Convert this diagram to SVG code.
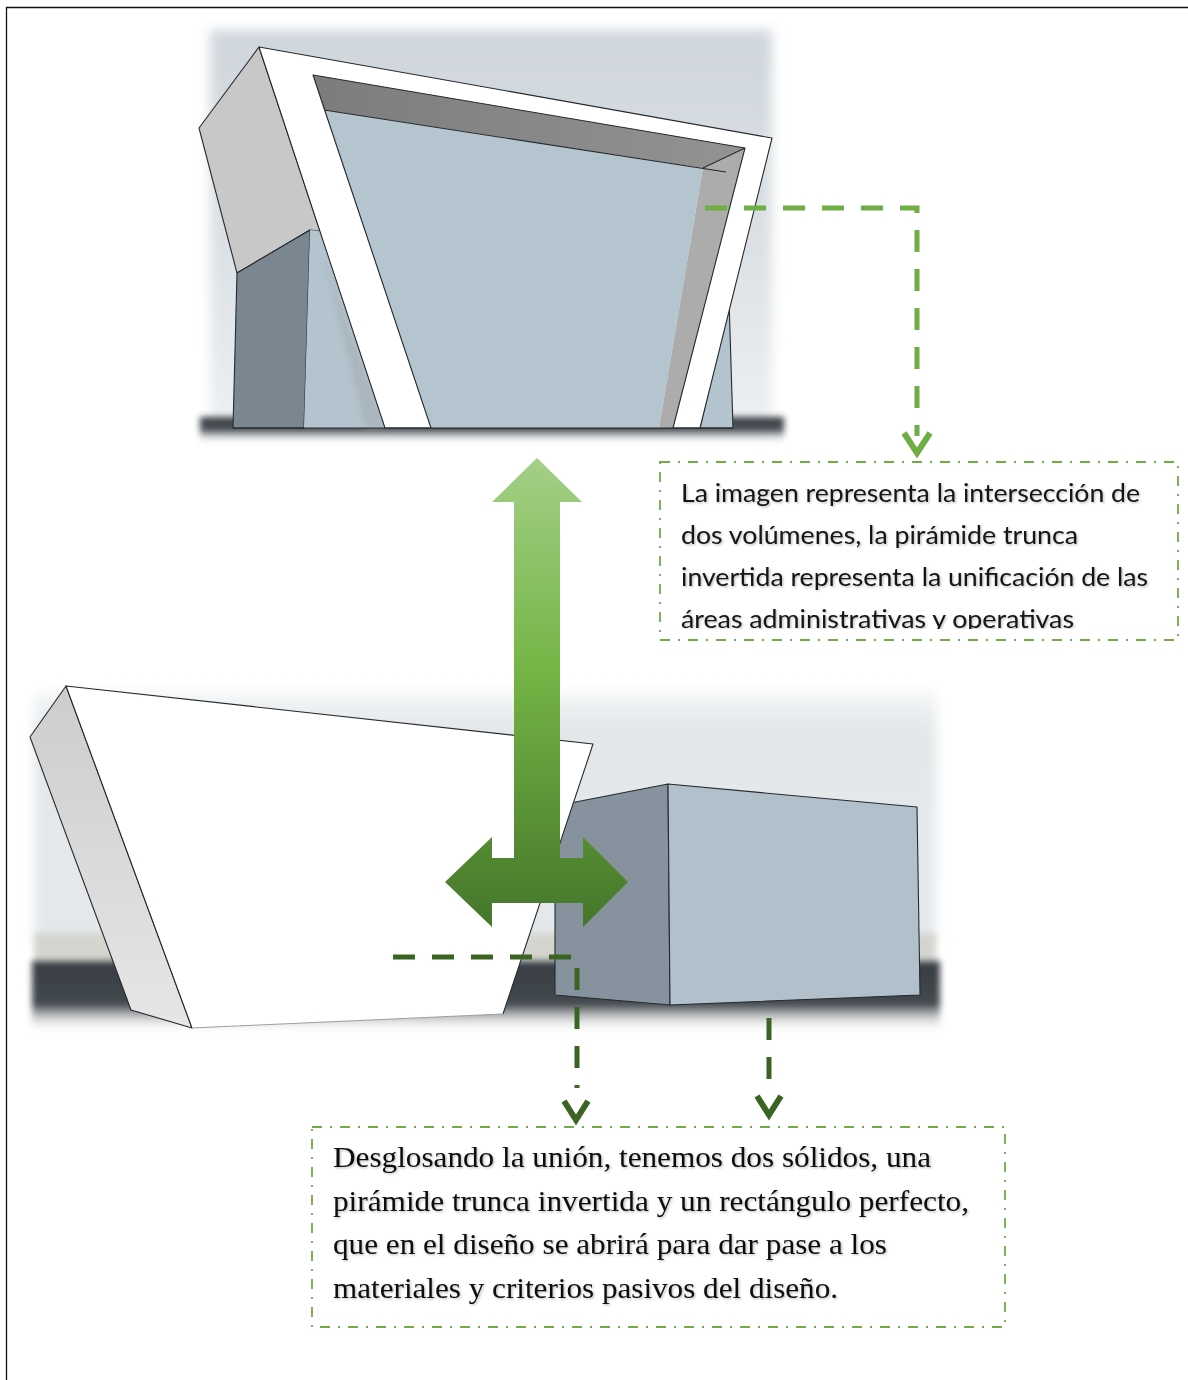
<svg xmlns="http://www.w3.org/2000/svg" width="1188" height="1380" viewBox="0 0 1188 1380">
  <defs>
    <style>
      .edge { stroke: #262a2e; stroke-width: 1.1; stroke-linejoin: round; }
      .note-frame { fill: none; stroke: #70ad47; stroke-width: 1.8; stroke-dasharray: 10 8 2 8; }
      .sans { font-family: "Lato", "Open Sans", "Liberation Sans", sans-serif; font-size: 25px; fill: #141414; }
      .serif { font-family: "Liberation Serif", "DejaVu Serif", serif; font-size: 30px; fill: #0c0c0c; }
      .link-light { fill: none; stroke: #6fae45; stroke-width: 5; stroke-dasharray: 22 17; }
      .link-dark { fill: none; stroke: #3b6423; stroke-width: 5; stroke-dasharray: 22 17; }
      .chev-light { fill: none; stroke: #6fae45; stroke-width: 6; stroke-linejoin: miter; }
      .chev-dark { fill: none; stroke: #3b6423; stroke-width: 6; stroke-linejoin: miter; }
    </style>
    <filter id="soft" x="-5%" y="-5%" width="110%" height="110%">
      <feGaussianBlur stdDeviation="6"/>
    </filter>
    <filter id="soft-sm" x="-5%" y="-50%" width="110%" height="200%">
      <feGaussianBlur stdDeviation="3"/>
    </filter>
    <filter id="halo" x="-5%" y="-20%" width="110%" height="140%">
      <feDropShadow dx="1.2" dy="1.2" stdDeviation="1.2" flood-color="#000" flood-opacity="0.28"/>
    </filter>
    <linearGradient id="skyTop" x1="0" y1="0" x2="0" y2="1">
      <stop offset="0" stop-color="#cfd6dc"/>
      <stop offset="0.55" stop-color="#dce1e5"/>
      <stop offset="1" stop-color="#eef1f3"/>
    </linearGradient>
    <linearGradient id="skyLow" x1="0" y1="0" x2="0" y2="1">
      <stop offset="0" stop-color="#f4f6f7"/>
      <stop offset="0.15" stop-color="#e3e7ea"/>
      <stop offset="1" stop-color="#e4e8eb"/>
    </linearGradient>
    <linearGradient id="groundTop" x1="0" y1="0" x2="0" y2="1">
      <stop offset="0" stop-color="#393e44"/>
      <stop offset="0.5" stop-color="#4b5056"/>
      <stop offset="1" stop-color="#ffffff" stop-opacity="0"/>
    </linearGradient>
    <linearGradient id="groundLow" x1="0" y1="0" x2="0" y2="1">
      <stop offset="0" stop-color="#383e44"/>
      <stop offset="0.6" stop-color="#43494f"/>
      <stop offset="1" stop-color="#ffffff" stop-opacity="0"/>
    </linearGradient>
    <linearGradient id="recessTop" x1="0" y1="0" x2="1" y2="0">
      <stop offset="0" stop-color="#7c7c7c"/>
      <stop offset="1" stop-color="#939393"/>
    </linearGradient>
    <linearGradient id="sideWall" x1="0" y1="0" x2="0" y2="1">
      <stop offset="0" stop-color="#cdcdcd"/>
      <stop offset="1" stop-color="#e6e6e6"/>
    </linearGradient>
    <linearGradient id="shaftFill" gradientUnits="userSpaceOnUse" x1="0" y1="458" x2="0" y2="927">
      <stop offset="0" stop-color="#a4cf88"/>
      <stop offset="0.45" stop-color="#74b545"/>
      <stop offset="1" stop-color="#45762a"/>
    </linearGradient>
    <clipPath id="noteClip">
      <rect x="660" y="462" width="518" height="167"/>
    </clipPath>
  </defs>

  <!-- page rule -->
  <path d="M6.5,1380 V7.5 H1188" fill="none" stroke="#111" stroke-width="1.3"/>

  <!-- upper render: truncated pyramid merged with the box -->
  <g id="render-joined">
    <rect x="210" y="30" width="562" height="405" fill="url(#skyTop)" filter="url(#soft)"/>
    <rect x="200" y="417" width="584" height="26" fill="url(#groundTop)" filter="url(#soft-sm)"/>
    <!-- side wall of the pyramid -->
    <polygon class="edge" points="259,47 199,128 237,273 310,230 320,231" fill="#c8c8c8"/>
    <!-- shaded pillar of the box -->
    <polygon class="edge" points="237,273 310,230 304,428 233,428" fill="#7a8690"/>
    <polygon points="310,230 320,231 385,428 304,428" fill="#b4c4cf"/>
    <polygon points="322,250 385,428 365,428" fill="#a3aaae" opacity="0.55" filter="url(#soft-sm)"/>
    <polygon class="edge" points="729,300 733,428 700,428" fill="#b4c4cf"/>
    <!-- white frame -->
    <polygon class="edge" points="259,47 772,138 700,428 385,428" fill="#ffffff"/>
    <!-- opening -->
    <polygon points="324,110 703,168 659,428 431,428" fill="#b5c5d0"/>
    <polygon points="313,75 745,148 703,168 324,110" fill="url(#recessTop)"/>
    <polygon points="745,148 673,428 659,428 703,168" fill="#acacac"/>
    <path class="edge" fill="none" d="M431,428 L313,75 L745,148 L673,428 M324,110 L726,172 M745,148 L703,168"/>
    <path class="edge" fill="none" d="M233,428 H733"/>
  </g>

  <!-- lower render: the two separate solids -->
  <g id="render-split">
    <rect x="34" y="692" width="902" height="250" fill="url(#skyLow)" filter="url(#soft)"/>
    <rect x="34" y="933" width="902" height="30" fill="#d4d5cf" filter="url(#soft-sm)"/>
    <rect x="32" y="961" width="908" height="72" fill="url(#groundLow)" filter="url(#soft-sm)"/>
    <!-- box -->
    <polygon class="edge" points="668,784 555,806 555,995 670,1005" fill="#86939e"/>
    <polygon class="edge" points="668,784 917,807 920,995 670,1005" fill="#b2c0cb"/>
    <!-- inverted truncated pyramid -->
    <polygon class="edge" points="66,686 30,737 131,1010 192,1028" fill="url(#sideWall)"/>
    <polygon points="66,686 593,744 503,1014 192,1028" fill="#ffffff"/>
    <path class="edge" fill="none" d="M192,1028 L66,686 L593,744 L503,1014"/>
    <path fill="none" stroke="#9aa0a5" stroke-width="1" d="M192,1028 L503,1014"/>
  </g>

  <!-- union arrow -->
  <g id="union-arrow">
    <polygon fill="url(#shaftFill)" points="537,458 582,502 560,502 560,858 583,858 583,837 628,882 583,927 583,903 492,903 492,927 445,882 492,837 492,858 514,858 514,502 492,502"/>
  </g>

  <!-- note on the joined volume -->
  <g id="note-joined">
    <rect class="note-frame" x="660" y="462" width="518" height="178"/>
    <g clip-path="url(#noteClip)" filter="url(#halo)">
      <text class="sans" x="681" y="502" textLength="459" lengthAdjust="spacingAndGlyphs">La imagen representa la intersección de</text>
      <text class="sans" x="681" y="544" textLength="397" lengthAdjust="spacingAndGlyphs">dos volúmenes, la pirámide trunca</text>
      <text class="sans" x="681" y="586" textLength="467" lengthAdjust="spacingAndGlyphs">invertida representa la unificación de las</text>
      <text class="sans" x="681" y="628" textLength="393" lengthAdjust="spacingAndGlyphs">áreas administrativas y operativas</text>
    </g>
  </g>

  <!-- note on the separated solids -->
  <g id="note-split">
    <rect class="note-frame" x="312" y="1127" width="693" height="200"/>
    <g filter="url(#halo)">
      <text class="serif" x="333" y="1167" textLength="598" lengthAdjust="spacingAndGlyphs">Desglosando la unión, tenemos dos sólidos, una</text>
      <text class="serif" x="333" y="1210.5" textLength="636" lengthAdjust="spacingAndGlyphs">pirámide trunca invertida y un rectángulo perfecto,</text>
      <text class="serif" x="333" y="1254" textLength="554" lengthAdjust="spacingAndGlyphs">que en el diseño se abrirá para dar pase a los</text>
      <text class="serif" x="333" y="1297.5" textLength="505" lengthAdjust="spacingAndGlyphs">materiales y criterios pasivos del diseño.</text>
    </g>
  </g>

  <!-- leader lines -->
  <g id="connectors">
    <path class="link-light" d="M705,208 H917 V436"/>
    <polyline class="chev-light" points="904,433 917,453 930,433"/>
    <path class="link-dark" d="M393,957 H577 V1088"/>
    <polyline class="chev-dark" points="564,1101 576,1120 588,1101"/>
    <path class="link-dark" d="M769,1018 V1082"/>
    <polyline class="chev-dark" points="757,1096 769,1115 781,1096"/>
  </g>
</svg>
